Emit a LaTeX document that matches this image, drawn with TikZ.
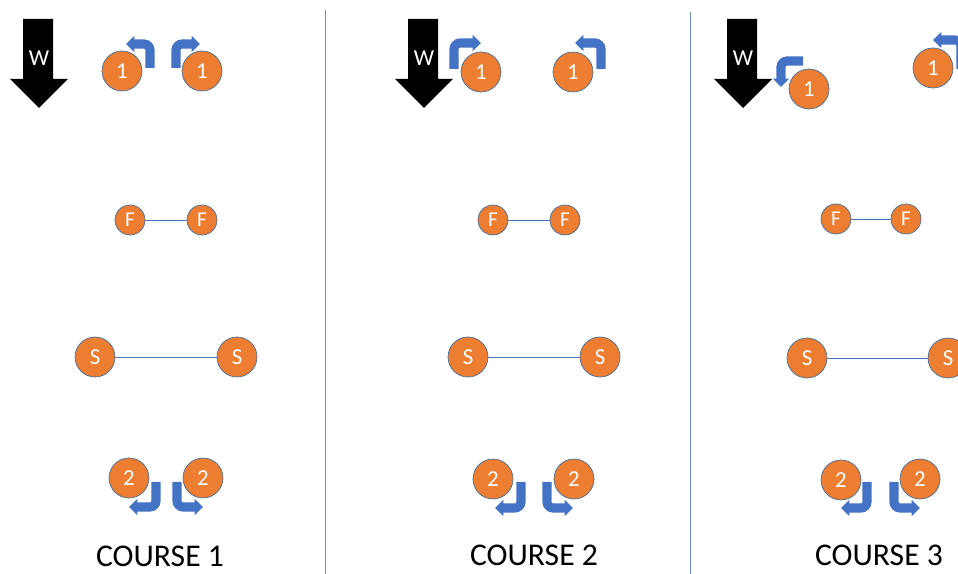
\documentclass[tikz,border=0pt]{standalone}
\usepackage{fontspec}
\setmainfont{Carlito}
\usetikzlibrary{arrows.meta}
\definecolor{dotorange}{HTML}{ED7D31}
\definecolor{rimblue}{HTML}{41719C}
\definecolor{turnblue}{HTML}{4472C4}
\tikzset{
  player/.style={circle,fill=dotorange,draw=rimblue,thin,text=white,inner sep=0pt,
    minimum size=0.8cm,font=\fontsize{13}{14}\selectfont},
  small player/.style={player,minimum size=0.6cm,font=\fontsize{12}{13}\selectfont},
  turn/.style={draw=turnblue,line width=5.2pt,rounded corners=3.5pt,
    -{Triangle[width=9pt,length=4.8pt]}},
  pair/.style={draw=turnblue,thin},
  divider/.style={draw=turnblue!80,thin},
  coursename/.style={font=\fontsize{18}{20}\selectfont,anchor=base,inner sep=0pt}
}
\begin{document}
\begin{tikzpicture}[x=0.02cm,y=-0.02cm]
  \useasboundingbox (0,0) rectangle (958,574);
  \clip (0,0) rectangle (958,574);
  % dividers
  \draw[divider] (325,10) -- (325,574);
  \draw[divider] (690,12) -- (690,574);
  % wind arrows
  \foreach \dx/\i in {0/1,385/2,704/3} {
    \fill[black] (23+\dx,19) -- (53+\dx,19) -- (53+\dx,79) -- (68+\dx,79)
      -- (39+\dx,108) -- (10+\dx,79) -- (23+\dx,79) -- cycle;
    \node[text=white,font=\fontsize{13}{14}\selectfont] (w\i) at (39+\dx,58) {W};
  }
  % turns
  \draw[turn] (150,68) -- (150,44) -- (126,44);
  \draw[turn] (176,68) -- (176,44) -- (200,44);
  \draw[turn] (454,69) -- (454,43) -- (481,43);
  \draw[turn] (601,69) -- (601,43) -- (575,43);
  \draw[turn] (803,61) -- (781,61) -- (781,87);
  \draw[turn] (961,69) -- (961,40) -- (933,40);
  \draw[turn] (156,482) -- (156,507) -- (129,507);
  \draw[turn] (177,482) -- (177,507) -- (203,507);
  \draw[turn] (521,482) -- (521,508) -- (495,508);
  \draw[turn] (547,482) -- (547,508) -- (573,508);
  \draw[turn] (867,482) -- (867,508) -- (841,508);
  \draw[turn] (894,482) -- (894,508) -- (920,508);
  % course 1
  \node[player] (a1) at (122,71) {1};
  \node[player] (b1) at (202,71) {1};
  \node[small player] (fa1) at (130,220) {F};
  \node[small player] (fb1) at (202,220) {F};
  \node[player] (sa1) at (95,357) {S};
  \node[player] (sb1) at (237,357) {S};
  \node[player] (c1) at (129,478) {2};
  \node[player] (d1) at (203,478) {2};
  % course 2
  \node[player] (a2) at (481,72) {1};
  \node[player] (b2) at (573,72) {1};
  \node[small player] (fa2) at (493,220) {F};
  \node[small player] (fb2) at (565,220) {F};
  \node[player] (sa2) at (468,357) {S};
  \node[player] (sb2) at (600,357) {S};
  \node[player] (c2) at (493,479) {2};
  \node[player] (d2) at (574,479) {2};
  % course 3
  \node[player] (a3) at (809,89) {1};
  \node[player] (b3) at (933,68) {1};
  \node[small player] (fa3) at (836,219) {F};
  \node[small player] (fb3) at (906,219) {F};
  \node[player] (sa3) at (807,358) {S};
  \node[player] (sb3) at (948,358) {S};
  \node[player] (c3) at (841,480) {2};
  \node[player] (d3) at (920,479) {2};
  % pairs
  \foreach \i in {1,2,3} {
    \draw[pair] (fa\i) -- (fb\i);
    \draw[pair] (sa\i) -- (sb\i);
  }
  % names
  \node[coursename] (t1) at (160,566) {COURSE 1};
  \node[coursename] (t2) at (534,565) {COURSE 2};
  \node[coursename] (t3) at (879,565) {COURSE 3};
\end{tikzpicture}
\end{document}
